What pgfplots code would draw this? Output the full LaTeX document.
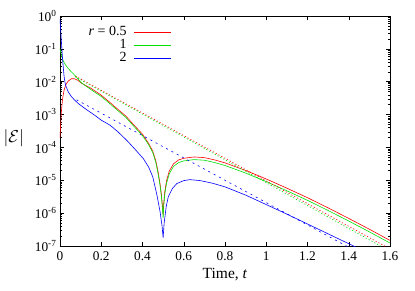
\documentclass[border=0pt]{standalone}
\usepackage{pgfplots}
\usepackage{pgfplotstable}
\pgfplotsset{compat=1.18}
\usepackage{fontspec}
\setmainfont{Liberation Serif}
\definecolor{gred}{RGB}{255,0,0}
\definecolor{ggreen}{RGB}{0,225,0}
\definecolor{gblue}{RGB}{0,0,255}

% columns: t, log10 of |E|
\pgfplotstableread{
t l
0 -3.7
0.004 -3.2
0.008 -2.8
0.013 -2.5
0.02 -2.25
0.03 -2.07
0.04 -1.98
0.055 -1.91
0.07 -1.91
0.085 -1.95
0.103 -2.04
0.15 -2.20
0.20 -2.41
0.24 -2.62
0.275 -2.81
0.32 -3.05
0.36 -3.33
0.40 -3.60
0.43 -3.88
0.45 -4.12
0.465 -4.42
0.475 -4.72
0.485 -5.10
0.492 -5.45
0.497 -5.80
0.5 -6.05
0.503 -5.70
0.508 -5.35
0.517 -5.00
0.53 -4.72
0.55 -4.50
0.575 -4.38
0.60 -4.33
0.65 -4.29
0.70 -4.31
0.75 -4.38
0.80 -4.47
0.90 -4.70
1.00 -4.96
1.10 -5.24
1.20 -5.53
1.30 -5.84
1.40 -6.16
1.50 -6.49
1.60 -6.83
}\redsolid

\pgfplotstableread{
t l
0 -1.0
0.004 -1.12
0.01 -1.27
0.017 -1.38
0.025 -1.47
0.039 -1.59
0.055 -1.70
0.071 -1.80
0.087 -1.91
0.103 -2.03
0.15 -2.24
0.20 -2.45
0.24 -2.66
0.275 -2.85
0.32 -3.09
0.36 -3.37
0.40 -3.64
0.43 -3.92
0.45 -4.16
0.465 -4.47
0.475 -4.78
0.485 -5.16
0.492 -5.52
0.497 -5.88
0.5 -6.15
0.503 -5.78
0.508 -5.43
0.517 -5.08
0.53 -4.80
0.55 -4.58
0.575 -4.46
0.60 -4.41
0.65 -4.37
0.70 -4.39
0.75 -4.46
0.80 -4.55
0.90 -4.78
1.00 -5.04
1.10 -5.32
1.20 -5.61
1.30 -5.92
1.40 -6.24
1.50 -6.57
1.60 -6.91
}\greensolid

\pgfplotstableread{
t l
0 -0.1
0.005 -0.6
0.01 -1.1
0.015 -1.5
0.02 -1.85
0.025 -2.05
0.03 -2.16
0.04 -2.31
0.055 -2.45
0.071 -2.56
0.09 -2.67
0.12 -2.81
0.168 -3.02
0.20 -3.17
0.242 -3.32
0.28 -3.52
0.323 -3.78
0.36 -4.03
0.404 -4.34
0.43 -4.60
0.45 -4.90
0.47 -5.45
0.485 -5.95
0.495 -6.40
0.5 -6.75
0.505 -6.30
0.515 -5.80
0.525 -5.50
0.545 -5.25
0.566 -5.10
0.60 -5.01
0.63 -4.98
0.68 -5.01
0.74 -5.09
0.80 -5.20
0.90 -5.45
1.00 -5.74
1.10 -6.03
1.20 -6.33
1.30 -6.63
1.40 -6.93
1.45 -7.08
}\bluesolid

\pgfplotstableread{
t l
0.075 -1.83
1.6 -7.09
}\reddot

\pgfplotstableread{
t l
0.065 -1.82
1.6 -7.16
}\greendot

\pgfplotstableread{
t l
0.08 -2.55
1.6 -7.72
}\bluedash

\begin{document}
\begin{tikzpicture}
\begin{axis}[
  scale only axis, width=330pt, height=230pt,
  xmin=0, xmax=1.6, ymin=1e-7, ymax=1,
  ymode=log,
  axis line style={line width=0.6pt},
  xtick={0,0.2,0.4,0.6,0.8,1,1.2,1.4,1.6},
  xticklabels={0,0.2,0.4,0.6,0.8,1,1.2,1.4,1.6},
  ytick={1e-7,1e-6,1e-5,1e-4,1e-3,1e-2,1e-1,1},
  yticklabels={10\textsuperscript{-7},10\textsuperscript{-6},10\textsuperscript{-5},10\textsuperscript{-4},10\textsuperscript{-3},10\textsuperscript{-2},10\textsuperscript{-1},10\textsuperscript{0}},
  tick align=inside,
  major tick length=4pt, minor tick length=2pt,
  major tick style={line width=0.5pt, black},
  minor tick style={line width=0.4pt, black},
  tick label style={font=\fontsize{13.3}{15}\selectfont},
  xticklabel style={yshift=-2pt},
  xlabel={Time, \textit{t}},
  ylabel={$|\mathcal{E}|$},
  xlabel style={font=\fontsize{15.5}{17}\selectfont, at={(axis description cs:0.5,-0.126)}, anchor=center},
  ylabel style={font=\fontsize{16}{18}\selectfont, rotate=-90, at={(axis description cs:-0.14,0.47)}, anchor=center},
  legend style={draw=none, fill=none, at={(axis description cs:0.338,0.955)}, anchor=north east,
     font=\fontsize{14}{14}\selectfont, row sep=1.3pt, inner sep=0pt,
     nodes={inner sep=0.5pt, text height=8.5pt, text depth=2pt}},
  legend cell align=right,
  legend plot pos=right,
  legend image code/.code={\path[draw=none,fill=none] (0pt,0pt) rectangle (1pt,0.1pt);\draw[mark repeat=2,mark phase=2,#1] plot coordinates {(7pt,0pt) (25pt,0pt) (44pt,0pt)};},
]
\addplot[color=gred, line width=0.6pt] table[x=t, y expr=10^\thisrow{l}] {\redsolid};
\addlegendentry{\textit{r} = 0.5}
\addplot[color=ggreen, line width=0.6pt] table[x=t, y expr=10^\thisrow{l}] {\greensolid};
\addlegendentry{1}
\addplot[color=gblue, line width=0.6pt] table[x=t, y expr=10^\thisrow{l}] {\bluesolid};
\addlegendentry{2}
\addplot[color=gred, line width=0.6pt, dash pattern=on 1.2pt off 2pt, forget plot] table[x=t, y expr=10^\thisrow{l}] {\reddot};
\addplot[color=ggreen, line width=0.6pt, dash pattern=on 1.2pt off 2pt, dash phase=1.6pt, forget plot] table[x=t, y expr=10^\thisrow{l}] {\greendot};
\addplot[color=gblue, line width=0.6pt, dash pattern=on 2pt off 4pt, forget plot] table[x=t, y expr=10^\thisrow{l}] {\bluedash};
\end{axis}
\pgfresetboundingbox
\path ([shift={(-60pt,-45pt)}]current axis.south west) rectangle ([shift={(25pt,16pt)}]current axis.north east);
\end{tikzpicture}
\end{document}
